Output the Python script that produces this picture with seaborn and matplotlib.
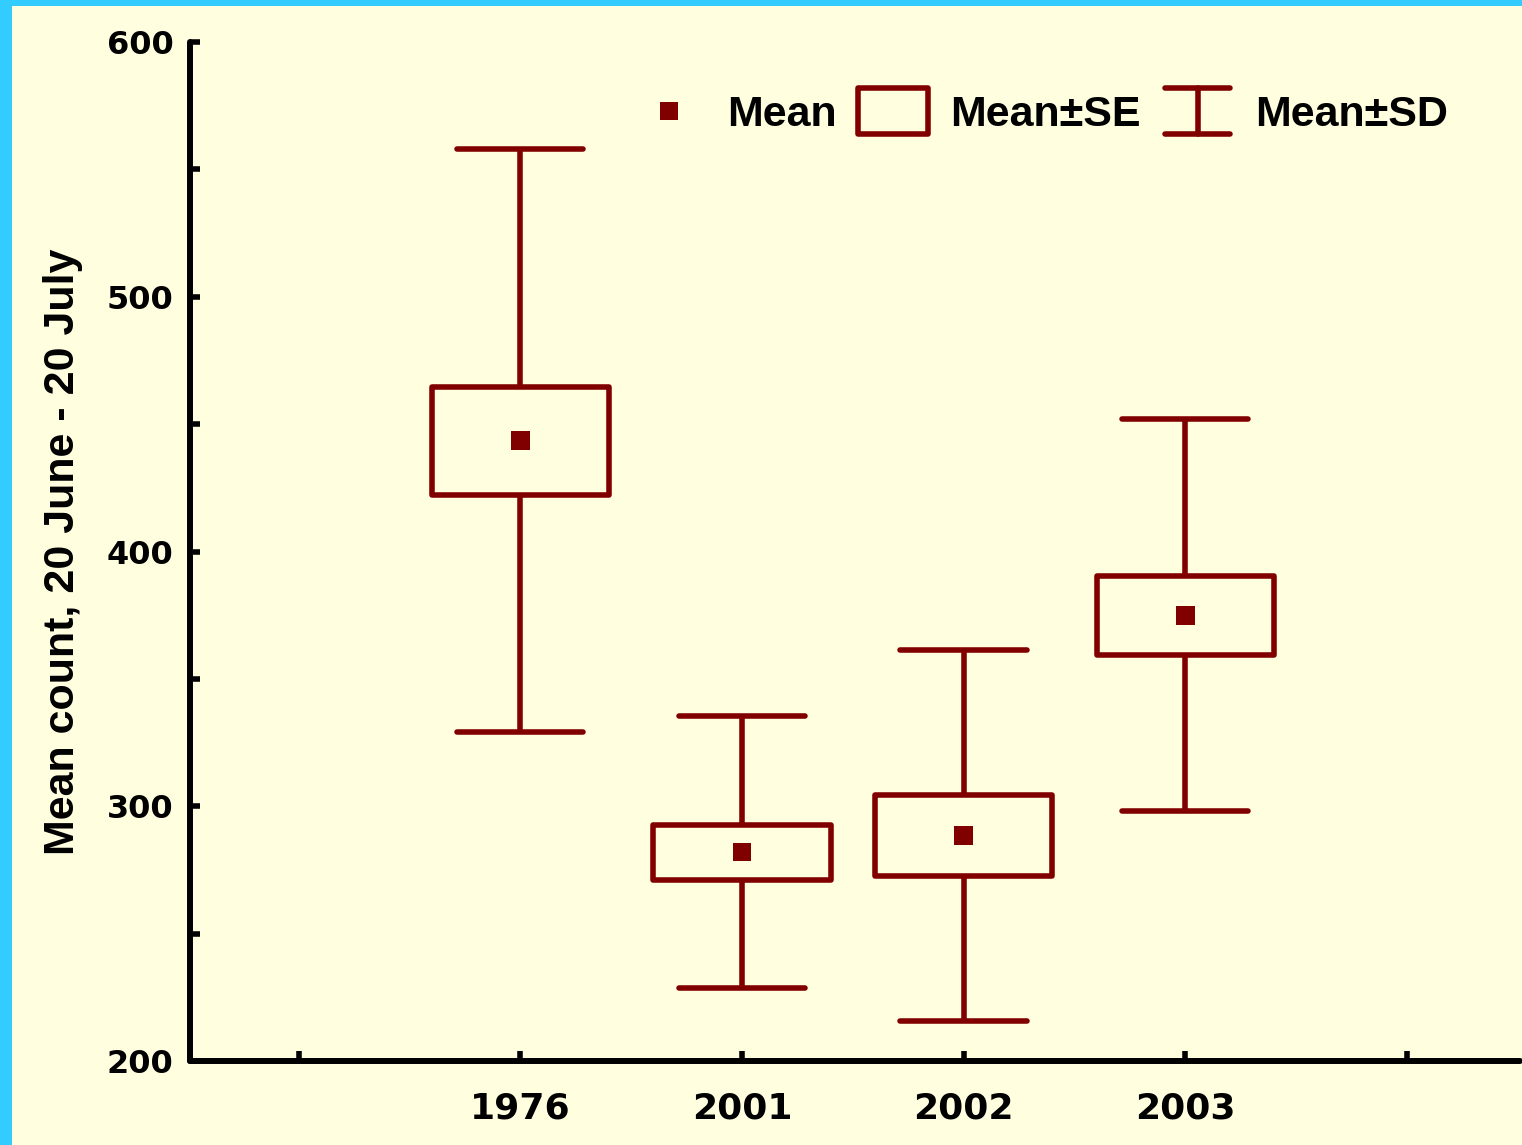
import numpy as np
import pandas as pd
import matplotlib
matplotlib.use("Agg")
import matplotlib.pyplot as plt
from matplotlib.patches import Rectangle
from matplotlib.lines import Line2D
from matplotlib.legend_handler import HandlerBase
from matplotlib.font_manager import FontProperties
import seaborn as sns

# Summary statistics per year
years = ["1976", "2001", "2002", "2003"]
means = [443.5, 282.0, 288.5, 375.0]
se = [21.2, 10.8, 16.0, 15.5]
sd = [114.5, 53.5, 72.8, 77.0]

y_ticks = [200, 300, 400, 500, 600]
y_minor = [250, 350, 450, 550]

RED = "#800000"
BG = "#FFFFE0"
CYAN = "#33CCFF"
LW = 4.0

df = pd.DataFrame({"year": years, "mean": means, "se": se, "sd": sd})
df["pos"] = np.arange(len(df))

sns.set_style("white")
plt.rcParams["font.family"] = ["DejaVu Sans"]
plt.rcParams["text.color"] = "black"
plt.rcParams["axes.labelcolor"] = "black"
plt.rcParams["xtick.color"] = "black"
plt.rcParams["ytick.color"] = "black"

arial_bold = FontProperties(family=["Liberation Sans", "DejaVu Sans"], weight="bold")

fig = plt.figure(figsize=(15.22, 11.45), dpi=100, facecolor=BG)
# cyan frame along the top and left edges
fig.patches.append(Rectangle((0, 0), 12 / 1522, 1, transform=fig.transFigure,
                             facecolor=CYAN, edgecolor="none", zorder=-10))
fig.patches.append(Rectangle((0, 1 - 6 / 1145), 1, 6 / 1145, transform=fig.transFigure,
                             facecolor=CYAN, edgecolor="none", zorder=-10))

ax = fig.add_axes([190 / 1522, 84 / 1145, 1330 / 1522, 1019 / 1145])
ax.set_facecolor(BG)

box_w = 0.80
cap_w = 0.57

# SD whiskers with caps
ax.vlines(df["pos"], df["mean"] - df["sd"], df["mean"] + df["sd"],
          color=RED, lw=LW, zorder=2)
for yv in [df["mean"] + df["sd"], df["mean"] - df["sd"]]:
    ax.hlines(yv, df["pos"] - cap_w / 2, df["pos"] + cap_w / 2,
              color=RED, lw=LW, zorder=2, capstyle="round")

# SE boxes
for p, m, s in zip(df["pos"], df["mean"], df["se"]):
    ax.add_patch(Rectangle((p - box_w / 2, m - s), box_w, 2 * s,
                           facecolor=BG, edgecolor=RED, lw=LW, zorder=3,
                           joinstyle="round"))

# Means
sns.scatterplot(data=df, x="pos", y="mean", marker="s", s=13.5 ** 2,
                color=RED, edgecolor="none", zorder=4, ax=ax, legend=False)

ax.set_xlim(-1.49, 4.51)
ax.set_ylim(200, 600)
ax.set_xticks(np.arange(-1, len(years) + 1))
ax.set_xticklabels([""] + years + [""])
ax.set_yticks(y_ticks)
ax.set_yticks(y_minor, minor=True)
ax.set_yticklabels([str(v) for v in y_ticks])

for s in ["top", "right"]:
    ax.spines[s].set_visible(False)
for s in ["left", "bottom"]:
    ax.spines[s].set_linewidth(4.3)
    ax.spines[s].set_color("black")
    ax.spines[s].set_capstyle("round")

ax.tick_params(axis="both", which="both", direction="in", length=7, width=4,
               color="black", bottom=True, left=True, top=False, right=False)
ax.tick_params(axis="x", pad=22, labelsize=26, labelcolor="black")
ax.tick_params(axis="y", pad=12, labelsize=23, labelcolor="black")
for lab in ax.get_xticklabels() + ax.get_yticklabels():
    lab.set_fontweight("bold")

ax.set_xlabel("")
ax.set_ylabel("Mean count, 20 June - 20 July", fontproperties=arial_bold,
              fontsize=31, color="black", labelpad=17)


class HandlerIBar(HandlerBase):
    def create_artists(self, legend, orig_handle, xdescent, ydescent,
                       width, height, fontsize, trans):
        cx = width / 2 - xdescent
        y0 = -ydescent - 0.26 * height
        y1 = -ydescent + 1.26 * height
        lines = [
            Line2D([cx, cx], [y0, y1], color=RED, lw=LW),
            Line2D([-xdescent + 2, width - xdescent - 2], [y0, y0], color=RED,
                   lw=LW, solid_capstyle="round"),
            Line2D([-xdescent + 2, width - xdescent - 2], [y1, y1], color=RED,
                   lw=LW, solid_capstyle="round"),
        ]
        for ln in lines:
            ln.set_transform(trans)
        return lines


class HandlerBox(HandlerBase):
    def create_artists(self, legend, orig_handle, xdescent, ydescent,
                       width, height, fontsize, trans):
        r = Rectangle((-xdescent, -ydescent - 0.26 * height), width, 1.52 * height,
                      facecolor=BG, edgecolor=RED, lw=LW, joinstyle="round",
                      transform=trans)
        return [r]


h_mean = Line2D([], [], ls="none", marker="s", markersize=13.5, color=RED,
                markeredgewidth=0)
h_se = Rectangle((0, 0), 1, 1)
h_sd = object()

leg_font = FontProperties(family=["Liberation Sans", "DejaVu Sans"], weight="bold", size=31)
leg = ax.legend([h_mean, h_se, h_sd], ["Mean", "Mean±SE", "Mean±SD"],
                handler_map={Rectangle: HandlerBox(), object: HandlerIBar()},
                ncol=3, loc="upper right", bbox_to_anchor=(0.975, 0.986),
                frameon=False, handlelength=1.63, handletextpad=0.52,
                columnspacing=0.5, prop=leg_font)
for t in leg.get_texts():
    t.set_color("black")

fig.savefig("out.png", dpi=100, facecolor=BG)
